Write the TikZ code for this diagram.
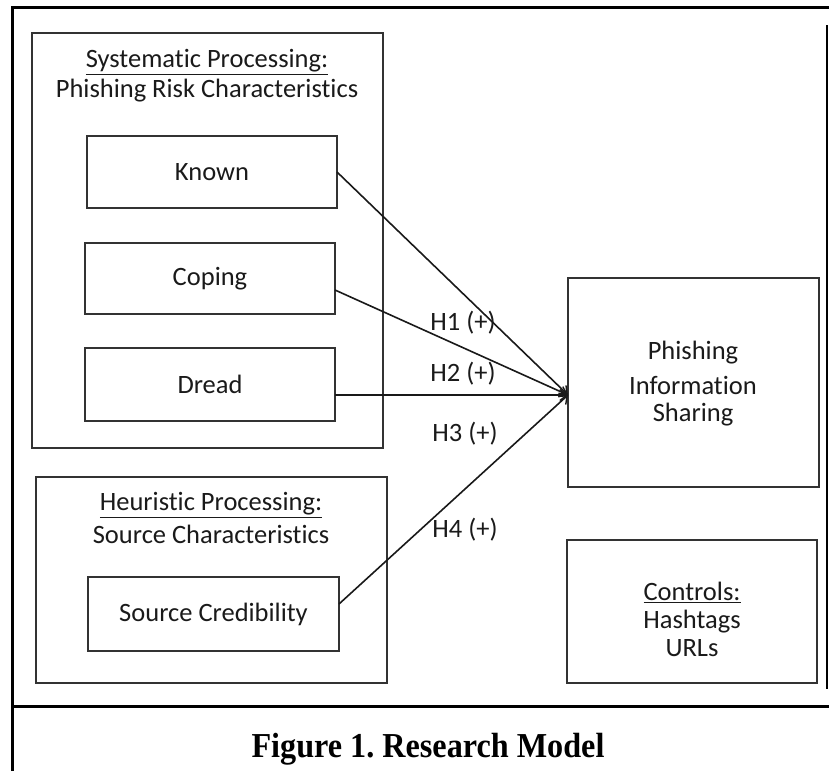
\documentclass[tikz,border=0pt]{standalone}
\usepackage{fontspec}
\setmainfont{Carlito}[Ligatures={NoCommon}]
\newfontfamily\capfont{Liberation Serif}
\usetikzlibrary{arrows.meta}
\frenchspacing
\definecolor{boxline}{HTML}{333333}
\definecolor{txt}{HTML}{1A1A1A}
\tikzset{
  box/.style={draw=boxline, line width=2pt, inner sep=0pt, outer sep=0pt},
  lbl/.style={text=txt, font=\fontsize{26.5}{31}\selectfont, inner sep=0pt, align=center},
  hyp/.style={text=txt, font=\fontsize{26.5}{31}\selectfont, inner sep=0pt},
  link/.style={draw=black!90, line width=1.6pt, -{Straight Barb[length=7pt,width=11pt,line width=1.4pt]}},
  frame/.style={draw=black, line width=3pt}
}
\begin{document}
\begin{tikzpicture}[x=1pt,y=-1pt]
\useasboundingbox (0,0) rectangle (829,771);
% outer frame
\draw[frame] (12,771) -- (12,7) -- (829,7);
\draw[draw=black, line width=1.2pt] (827,25) -- (827,689);
\draw[frame] (12,706) -- (829,706);
\node[anchor=base, font=\capfont\bfseries\fontsize{35}{38}\selectfont] (cap) at (428,757) {\scalebox{0.92}[1]{Figure 1. Research Model}};

% systematic group
\node[box, minimum width=351pt, minimum height=415pt] (sys) at (207.5,240.5) {};
\node[lbl] (systitle) at (207,62) {\underline{Systematic Processing:}};
\node[lbl] (syssub) at (207,91) {Phishing Risk Characteristics};
\node[box, lbl, minimum width=250pt, minimum height=72pt] (known) at (212,172) {Known};
\node[box, lbl, minimum width=250pt, minimum height=71pt] (coping) at (210,278.5) {Coping};
\node[box, lbl, minimum width=250pt, minimum height=73pt] (dread) at (210,384.5) {Dread};

% heuristic group
\node[box, minimum width=351pt, minimum height=206pt] (heur) at (211.5,580) {};
\node[lbl] (heurtitle) at (211,505) {\underline{Heuristic Processing:}};
\node[lbl] (heursub) at (211,534) {Source Characteristics};
\node[box, lbl, minimum width=251pt, minimum height=74pt] (src) at (213.5,614) {Source Credibility};

% outcome
\node[box, minimum width=251pt, minimum height=209pt] (pis) at (693.5,382.5) {};
\node[lbl] (pis1) at (693,353) {Phishing};
\node[lbl] (pis2) at (693,385) {Information};
\node[lbl] (pis3) at (693,415) {Sharing};

% controls
\node[box, minimum width=250pt, minimum height=143pt] (ctrl) at (692,611.5) {};
\node[lbl] (ctrl1) at (692,592) {\underline{Controls:}};
\node[lbl] (ctrl2) at (692,622) {Hashtags};
\node[lbl] (ctrl3) at (692,648) {URLs};

% connectors
\coordinate (tgt) at (pis.west |- 0,395);
\coordinate (copS) at ([yshift=-11.5pt]coping.east);
\coordinate (drdS) at ([yshift=-10.5pt]dread.east);
\coordinate (srcS) at ([yshift=10pt]src.east);
\draw[link] (known.east) -- (tgt);
\draw[link] (copS) -- (tgt);
\draw[link] (drdS) -- (tgt);
\draw[link] (srcS) -- (tgt);

% hypothesis labels
\node[hyp] (h1) at (463,323) {H1 (+)};
\node[hyp] (h2) at (463,374) {H2 (+)};
\node[hyp] (h3) at (465,434) {H3 (+)};
\node[hyp] (h4) at (465,530) {H4 (+)};
\end{tikzpicture}
\end{document}
